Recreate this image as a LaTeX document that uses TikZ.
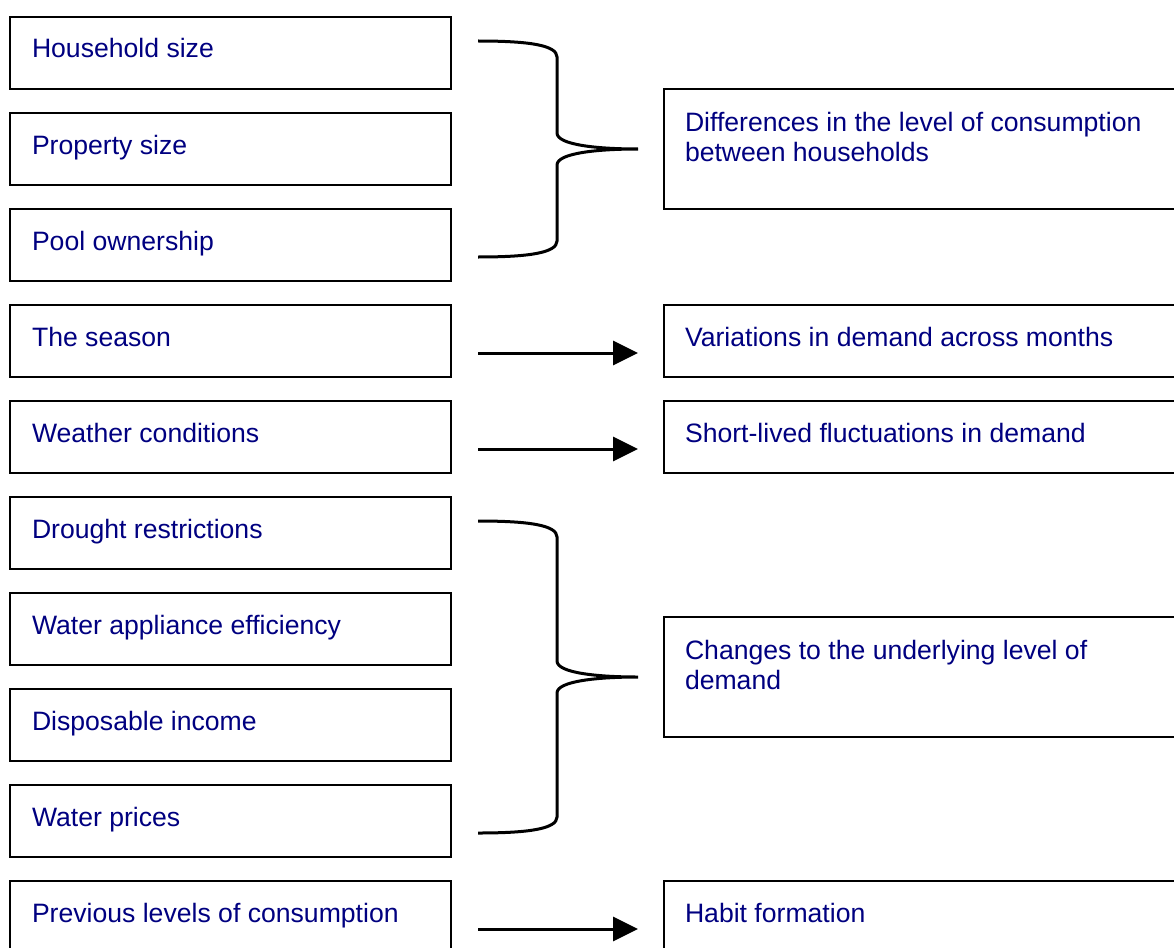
\documentclass[tikz,border=0pt]{standalone}
\usepackage{fontspec}
\setmainfont{Liberation Sans}
\usetikzlibrary{arrows.meta,calc}
\definecolor{navytext}{RGB}{0,0,128}
\tikzset{
 box/.style={draw=black, line width=1.5pt, anchor=north west, minimum width=441pt, minimum height=72pt, inner sep=0pt, outer sep=0pt},
 rbox/.style={box, minimum width=540pt},
 tallbox/.style={rbox, minimum height=120pt},
 lbl/.style={anchor=base west, inner sep=0pt, outer sep=0pt, text=navytext, font=\fontsize{26.6}{30}\selectfont, align=left},
 flow/.style={line width=3pt, -{Triangle[length=25pt,width=24pt]}},
 bracestyle/.style={line width=3pt},
}
\newcommand\mybrace[3]{%
 \draw[bracestyle] (#1) .. controls +(50,0) and +(0,-12) .. ++(79,16)
   -- ($(#2)+(-81,-16)$) .. controls +(0,12) and +(-40,0) .. (#2)
   .. controls +(-40,0) and +(0,-12) .. ($(#2)+(-81,16)$)
   -- ($(#3)+(79,-16)$) .. controls +(0,12) and +(50,0) .. (#3);}
\begin{document}
\begin{tikzpicture}[x=1pt,y=-1pt]
\useasboundingbox (0,0) rectangle (1174,947);
\clip (0,0) rectangle (1174,947);
% left boxes
\node[box] (hh) at (10,17) {};
\node[box] (ps) at (10,113) {};
\node[box] (po) at (10,209) {};
\node[box] (se) at (10,305) {};
\node[box] (we) at (10,401) {};
\node[box] (dr) at (10,497) {};
\node[box] (wa) at (10,593) {};
\node[box] (di) at (10,689) {};
\node[box] (wp) at (10,785) {};
\node[box] (pl) at (10,881) {};
\node[lbl] (hht) at ([shift={(22,41)}]hh.north west) {Household size};
\node[lbl] (pst) at ([shift={(22,41)}]ps.north west) {Property size};
\node[lbl] (pot) at ([shift={(22,41)}]po.north west) {Pool ownership};
\node[lbl] (set) at ([shift={(22,41)}]se.north west) {The season};
\node[lbl] (wet) at ([shift={(22,41)}]we.north west) {Weather conditions};
\node[lbl] (drt) at ([shift={(22,41)}]dr.north west) {Drought restrictions};
\node[lbl] (wat) at ([shift={(22,41)}]wa.north west) {Water appliance efficiency};
\node[lbl] (dit) at ([shift={(22,41)}]di.north west) {Disposable income};
\node[lbl] (wpt) at ([shift={(22,41)}]wp.north west) {Water prices};
\node[lbl] (plt) at ([shift={(22,41)}]pl.north west) {Previous levels of consumption};
% right boxes
\node[tallbox] (df) at (664,89) {};
\node[rbox] (va) at (664,305) {};
\node[rbox] (sh) at (664,401) {};
\node[tallbox] (ch) at (664,617) {};
\node[rbox] (hf) at (664,881) {};
\node[lbl] (dft) at ([shift={(21,72)}]df.north west) {Differences in the level of consumption\\between households};
\node[lbl] (vat) at ([shift={(21,41)}]va.north west) {Variations in demand across months};
\node[lbl] (sht) at ([shift={(21,41)}]sh.north west) {Short-lived fluctuations in demand};
\node[lbl] (cht) at ([shift={(21,72)}]ch.north west) {Changes to the underlying level of\\demand};
\node[lbl] (hft) at ([shift={(21,41)}]hf.north west) {Habit formation};
% arrows
\draw[flow] ([shift={(27,12)}]se.east) -- ([shift={(-26,12)}]va.west);
\draw[flow] ([shift={(27,12)}]we.east) -- ([shift={(-26,12)}]sh.west);
\draw[flow] ([shift={(27,12)}]pl.east) -- ([shift={(-26,12)}]hf.west);
% braces
\coordinate (b1t) at ([shift={(27,-12)}]hh.east);
\coordinate (b1m) at ([shift={(-26,0)}]df.west);
\coordinate (b1b) at ([shift={(27,12)}]po.east);
\mybrace{b1t}{b1m}{b1b}
\coordinate (b2t) at ([shift={(27,-12)}]dr.east);
\coordinate (b2m) at ([shift={(-26,0)}]ch.west);
\coordinate (b2b) at ([shift={(27,12)}]wp.east);
\mybrace{b2t}{b2m}{b2b}
\end{tikzpicture}
\end{document}
